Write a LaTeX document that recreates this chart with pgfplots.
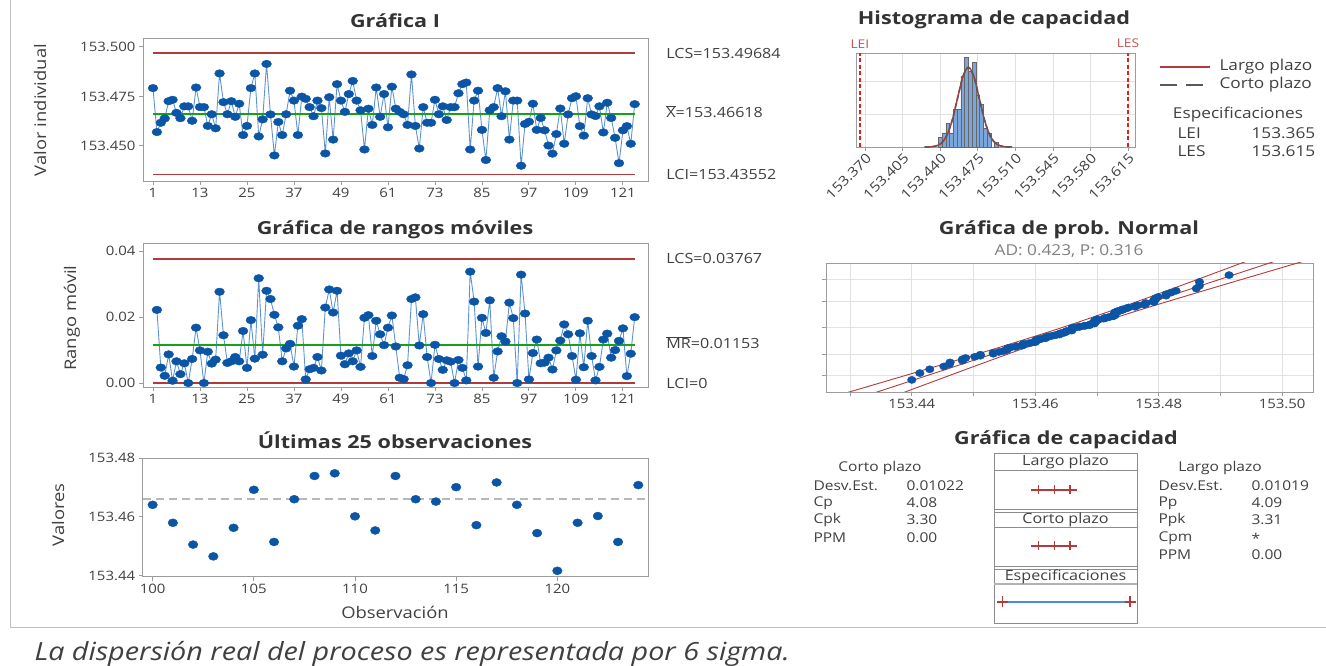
\documentclass[border=0pt]{standalone}
\usepackage{pgfplots}
\pgfplotsset{compat=1.18}
\usepackage{pgfplotstable}
\usepackage{fontspec}
\setmainfont[FakeStretch=1.15]{Open Sans}
\newfontfamily\ttlfont[FakeStretch=1.2]{Open Sans}
\definecolor{txt}{HTML}{404040}
\definecolor{ttlc}{HTML}{333333}
\definecolor{mkblue}{HTML}{0A55A6}
\definecolor{lnblue}{HTML}{5E93D1}
\definecolor{limred}{HTML}{B23A3A}
\definecolor{cgreen}{HTML}{19A019}
\definecolor{framec}{HTML}{9C9C9C}
\definecolor{gridc}{HTML}{E2E2E2}
\definecolor{histfill}{HTML}{7BA6DB}
\definecolor{specred}{HTML}{E0201B}
\definecolor{specblue}{HTML}{4A8FD6}

\pgfplotstableread{
i v
1 153.4792
2 153.4570
3 153.4617
4 153.4639
5 153.4726
6 153.4733
7 153.4667
8 153.4640
9 153.4700
10 153.4700
11 153.4627
12 153.4795
13 153.4696
14 153.4696
15 153.4601
16 153.4660
17 153.4589
18 153.4866
19 153.4721
20 153.4660
21 153.4726
22 153.4647
23 153.4713
24 153.4555
25 153.4601
26 153.4792
27 153.4866
28 153.4548
29 153.4634
30 153.4914
31 153.4659
32 153.4452
33 153.4621
34 153.4555
35 153.4660
36 153.4779
37 153.4729
38 153.4555
39 153.4749
40 153.4738
41 153.4696
42 153.4650
43 153.4729
44 153.4691
45 153.4462
46 153.4746
47 153.4532
48 153.4812
49 153.4729
50 153.4672
51 153.4762
52 153.4828
53 153.4729
54 153.4680
55 153.4482
56 153.4688
57 153.4606
58 153.4795
59 153.4647
60 153.4762
61 153.4594
62 153.4799
63 153.4688
64 153.4672
65 153.4660
66 153.4606
67 153.4861
68 153.4601
69 153.4487
70 153.4696
71 153.4617
72 153.4617
73 153.4733
74 153.4660
75 153.4700
76 153.4631
77 153.4696
78 153.4696
79 153.4766
80 153.4812
81 153.4820
82 153.4482
83 153.4729
84 153.4779
85 153.4581
86 153.4429
87 153.4680
88 153.4696
89 153.4792
90 153.4650
91 153.4776
92 153.4532
93 153.4729
94 153.4729
95 153.4400
96 153.4611
97 153.4622
98 153.4713
99 153.4581
100 153.4641
101 153.4579
102 153.4502
103 153.4461
104 153.4560
105 153.4689
106 153.4511
107 153.4659
108 153.4741
109 153.4751
110 153.4600
111 153.4552
112 153.4741
113 153.4659
114 153.4651
115 153.4700
116 153.4568
117 153.4718
118 153.4641
119 153.4541
120 153.4413
121 153.4579
122 153.4600
123 153.4511
124 153.4711
}\Idata

\pgfplotstableread{
i mr
2 0.0222
3 0.0047
4 0.0022
5 0.0087
6 0.0007
7 0.0066
8 0.0027
9 0.0060
10 0.0000
11 0.0073
12 0.0168
13 0.0099
14 0.0000
15 0.0095
16 0.0059
17 0.0071
18 0.0277
19 0.0145
20 0.0061
21 0.0066
22 0.0079
23 0.0066
24 0.0158
25 0.0046
26 0.0191
27 0.0074
28 0.0318
29 0.0086
30 0.0280
31 0.0255
32 0.0207
33 0.0169
34 0.0066
35 0.0105
36 0.0119
37 0.0050
38 0.0174
39 0.0194
40 0.0011
41 0.0042
42 0.0046
43 0.0079
44 0.0038
45 0.0229
46 0.0284
47 0.0214
48 0.0280
49 0.0083
50 0.0057
51 0.0090
52 0.0066
53 0.0099
54 0.0049
55 0.0198
56 0.0206
57 0.0082
58 0.0189
59 0.0148
60 0.0115
61 0.0168
62 0.0205
63 0.0111
64 0.0016
65 0.0012
66 0.0054
67 0.0255
68 0.0260
69 0.0114
70 0.0209
71 0.0079
72 0.0000
73 0.0116
74 0.0073
75 0.0040
76 0.0069
77 0.0065
78 0.0000
79 0.0070
80 0.0046
81 0.0008
82 0.0338
83 0.0247
84 0.0050
85 0.0198
86 0.0152
87 0.0251
88 0.0016
89 0.0096
90 0.0142
91 0.0126
92 0.0244
93 0.0197
94 0.0000
95 0.0329
96 0.0211
97 0.0011
98 0.0091
99 0.0132
100 0.0060
101 0.0062
102 0.0077
103 0.0041
104 0.0099
105 0.0129
106 0.0178
107 0.0148
108 0.0082
109 0.0010
110 0.0151
111 0.0048
112 0.0189
113 0.0082
114 0.0008
115 0.0049
116 0.0132
117 0.0150
118 0.0077
119 0.0100
120 0.0128
121 0.0166
122 0.0021
123 0.0089
124 0.0200
}\MRdata

\pgfplotstableread{
i v
100 153.4641
101 153.4580
102 153.4506
103 153.4466
104 153.4563
105 153.4692
106 153.4515
107 153.4660
108 153.4739
109 153.4748
110 153.4602
111 153.4554
112 153.4739
113 153.4660
114 153.4652
115 153.4701
116 153.4572
117 153.4717
118 153.4641
119 153.4545
120 153.4417
121 153.4580
122 153.4603
123 153.4515
124 153.4708
}\Ldata

\pgfplotstableread{
v z
153.4400 -2.535
153.4413 -2.206
153.4429 -2.020
153.4452 -1.884
153.4461 -1.777
153.4462 -1.687
153.4482 -1.608
153.4482 -1.539
153.4487 -1.476
153.4502 -1.419
153.4511 -1.366
153.4511 -1.316
153.4532 -1.270
153.4532 -1.226
153.4541 -1.184
153.4548 -1.145
153.4552 -1.107
153.4555 -1.070
153.4555 -1.035
153.4555 -1.001
153.4560 -0.968
153.4568 -0.937
153.4570 -0.906
153.4579 -0.876
153.4579 -0.847
153.4581 -0.818
153.4581 -0.790
153.4589 -0.763
153.4594 -0.736
153.4600 -0.710
153.4600 -0.685
153.4601 -0.659
153.4601 -0.635
153.4601 -0.610
153.4606 -0.586
153.4606 -0.562
153.4611 -0.539
153.4617 -0.516
153.4617 -0.493
153.4617 -0.470
153.4621 -0.448
153.4622 -0.426
153.4627 -0.404
153.4631 -0.382
153.4634 -0.360
153.4639 -0.339
153.4640 -0.318
153.4641 -0.297
153.4641 -0.276
153.4647 -0.255
153.4647 -0.234
153.4650 -0.213
153.4650 -0.193
153.4651 -0.172
153.4659 -0.152
153.4659 -0.131
153.4659 -0.111
153.4660 -0.091
153.4660 -0.071
153.4660 -0.050
153.4660 -0.030
153.4660 -0.010
153.4667 0.010
153.4672 0.030
153.4672 0.050
153.4680 0.071
153.4680 0.091
153.4688 0.111
153.4688 0.131
153.4689 0.152
153.4691 0.172
153.4696 0.193
153.4696 0.213
153.4696 0.234
153.4696 0.255
153.4696 0.276
153.4696 0.297
153.4696 0.318
153.4700 0.339
153.4700 0.360
153.4700 0.382
153.4700 0.404
153.4711 0.426
153.4713 0.448
153.4713 0.470
153.4718 0.493
153.4721 0.516
153.4726 0.539
153.4726 0.562
153.4729 0.586
153.4729 0.610
153.4729 0.635
153.4729 0.659
153.4729 0.685
153.4729 0.710
153.4729 0.736
153.4733 0.763
153.4733 0.790
153.4738 0.818
153.4741 0.847
153.4741 0.876
153.4746 0.906
153.4749 0.937
153.4751 0.968
153.4762 1.001
153.4762 1.035
153.4766 1.070
153.4776 1.107
153.4779 1.145
153.4779 1.184
153.4792 1.226
153.4792 1.270
153.4792 1.316
153.4795 1.366
153.4795 1.419
153.4799 1.476
153.4812 1.539
153.4812 1.608
153.4820 1.687
153.4828 1.777
153.4861 1.884
153.4866 2.020
153.4866 2.206
153.4914 2.535
}\Ndata

\pgfplotsset{
  mini/.style={
    scale only axis, anchor=south west,
    axis line style={framec, line width=0.9pt},
    tick style={framec, line width=0.9pt}, tick align=outside, tick pos=left,
    major tick length=4pt,
    ticklabel style={font=\fontsize{13}{13}\selectfont, text=txt},
    /pgf/number format/assume math mode=true,
    /pgf/number format/1000 sep={},
    scaled ticks=false,
    clip=false,
  },
}
\tikzset{
  ttl/.style={font=\ttlfont\fontsize{18}{20}\selectfont\bfseries, text=ttlc},
  lbl/.style={font=\fontsize{14}{16}\selectfont, text=txt},
  tbl/.style={font=\fontsize{13.5}{15}\selectfont, text=txt},
  leg/.style={font=\fontsize{15}{17}\selectfont, text=txt},
  axl/.style={font=\fontsize{16}{18}\selectfont, text=txt},
}

\begin{document}
\begin{tikzpicture}[x=1pt,y=1pt]
\path[use as bounding box] (0,0) rectangle (1326,666);
\draw[black!25, line width=0.8pt] (10,666) -- (10,39) -- (1326,39);

% ---------------- I chart
\begin{axis}[mini, at={(143pt,485pt)}, width=505pt, height=143pt,
  xmin=-1.55, xmax=127.4, ymin=153.4323, ymax=153.5045,
  xtick={1,13,25,37,49,61,73,85,97,109,121},
  ytick={153.45,153.475,153.5},
  yticklabel style={/pgf/number format/fixed, /pgf/number format/fixed zerofill, /pgf/number format/precision=3},
  ]
\addplot[lnblue, line width=0.9pt, no marks] table[x=i,y=v]{\Idata};
% control limits 153.49684 / 153.46618 / 153.43552 placed relative to ymin=153.4323, ymax=153.5045
\draw[limred, line width=1.4pt] (rel axis cs:0.019775,0.89391) -- (rel axis cs:0.973633,0.89391);
\draw[limred, line width=1.4pt] (rel axis cs:0.019775,0.04460) -- (rel axis cs:0.973633,0.04460);
\draw[cgreen, line width=1.6pt] (rel axis cs:0.019775,0.46925) -- (rel axis cs:0.973633,0.46925);
\addplot[only marks, mark=*, mark size=3.8pt,
  mark options={draw=mkblue, fill=mkblue, xscale=1.3}] table[x=i,y=v]{\Idata};
\node[lbl, anchor=west] at (rel axis cs:1.0295,0.89391) {LCS=153.49684};
\node[lbl, anchor=west] at (rel axis cs:1.0295,0.485) {$\overline{\hbox{X}}$=153.46618};
\node[lbl, anchor=west] at (rel axis cs:1.0295,0.04460) {LCI=153.43552};
\end{axis}

% ---------------- MR chart
\begin{axis}[mini, at={(143pt,279pt)}, width=505pt, height=144pt,
  xmin=-1.55, xmax=127.4, ymin=-0.0012, ymax=0.0425,
  xtick={1,13,25,37,49,61,73,85,97,109,121},
  ytick={0,0.02,0.04},
  yticklabel style={/pgf/number format/fixed, /pgf/number format/fixed zerofill, /pgf/number format/precision=2},
  ]
\addplot[lnblue, line width=0.9pt, no marks] table[x=i,y=mr]{\MRdata};
\draw[limred, line width=1.4pt] (axis cs:1,0.03767) -- (axis cs:124,0.03767);
\draw[limred, line width=1.4pt] (axis cs:1,0) -- (axis cs:124,0);
\draw[cgreen, line width=1.4pt] (axis cs:1,0.01153) -- (axis cs:124,0.01153);
\addplot[only marks, mark=*, mark size=3.8pt,
  mark options={draw=mkblue, fill=mkblue, xscale=1.3}] table[x=i,y=mr]{\MRdata};
\node[lbl, anchor=west] at (axis cs:131.2,0.03767) {LCS=0.03767};
\node[lbl, anchor=west] at (axis cs:131.2,0.0122) {$\overline{\hbox{MR}}$=0.01153};
\node[lbl, anchor=west] at (axis cs:131.2,0) {LCI=0};
\end{axis}

% ---------------- Last 25
\begin{axis}[mini, at={(142.7pt,89.3pt)}, width=505.3pt, height=118.7pt,
  xmin=99.51, xmax=124.48, ymin=153.4397, ymax=153.48,
  xtick={100,105,110,115,120},
  ytick={153.44,153.46,153.48},
  yticklabel style={/pgf/number format/fixed, /pgf/number format/fixed zerofill, /pgf/number format/precision=2},
  ]
\draw[black!28, line width=1.5pt, dash pattern=on 8pt off 5pt] (rel axis cs:0,0.65459) -- (rel axis cs:1,0.65459);
\addplot[only marks, mark=*, mark size=4pt,
  mark options={draw=mkblue, fill=mkblue, xscale=1.2}] table[x=i,y=v]{\Ldata};
\end{axis}

% ---------------- Histogram
\begin{axis}[mini, at={(856pt,519pt)}, width=279pt, height=94pt,
  xmin=153.3614, xmax=153.6215, ymin=0, ymax=20,
  xtick={153.370,153.405,153.440,153.475,153.510,153.545,153.580,153.615},
  xticklabels={153.370,153.405,153.440,153.475,153.510,153.545,153.580,153.615},
  xticklabel style={rotate=45, anchor=north east, inner sep=1pt, font=\fontsize{13.5}{13.5}\selectfont},
  ytick={7,14}, yticklabels={}, ytick style={draw=none},
  grid=major, grid style={gridc, line width=0.9pt},
  ]
\addplot[ybar interval, fill=histfill, draw=black!60, line width=0.6pt] coordinates {
(153.43825,2) (153.44175,3) (153.44525,5) (153.44875,3) (153.45225,8) (153.45575,8)
(153.45925,15) (153.46275,19) (153.46625,16) (153.46975,18) (153.47325,11) (153.47675,9)
(153.48025,4) (153.48375,3) (153.48725,0) (153.49075,1) (153.49425,0)};
\addplot[limred, line width=1.5pt, smooth] coordinates {
(153.42542,0.006) (153.43052,0.037) (153.43561,0.189) (153.44071,0.746) (153.44580,2.299)
(153.45090,5.516) (153.45599,10.305) (153.46109,14.994) (153.46618,16.99) (153.47127,14.994)
(153.47637,10.305) (153.48146,5.516) (153.48656,2.299) (153.49165,0.746) (153.49675,0.189)
(153.50184,0.037) (153.50694,0.006)};
\addplot[black!65, line width=1.5pt, dash pattern=on 5pt off 3pt, smooth] coordinates {
(153.42530,0.006) (153.43041,0.038) (153.43552,0.191) (153.44063,0.748) (153.44574,2.292)
(153.45085,5.500) (153.45596,10.275) (153.46107,14.950) (153.46618,16.94) (153.47129,14.950)
(153.47640,10.275) (153.48151,5.500) (153.48662,2.292) (153.49173,0.748) (153.49684,0.191)
(153.50195,0.038) (153.50706,0.006)};
\draw[specred, line width=1.3pt, dash pattern=on 4pt off 2.5pt] (axis cs:153.365,0) -- (axis cs:153.365,20);
\draw[specred, line width=1.3pt, dash pattern=on 4pt off 2.5pt] (axis cs:153.615,0) -- (axis cs:153.615,20);
\node[font=\fontsize{12}{12}\selectfont, text=limred!85, anchor=south] at (axis cs:153.365,20.3) {LEI};
\node[font=\fontsize{12}{12}\selectfont, text=limred!85, anchor=south] at (axis cs:153.615,20.3) {LES};
\end{axis}

% ---------------- Normal probability
\begin{axis}[mini, clip=true, at={(826pt,274pt)}, width=487pt, height=129pt,
  xmin=153.4261, xmax=153.505, ymin=-3.12, ymax=3.12,
  xtick={153.43,153.44,153.45,153.46,153.47,153.48,153.49,153.50},
  xticklabels={,153.44,,153.46,,153.48,,153.50},
  ytick={-2.326,-1.2816,0,1.2816,2.326}, yticklabels={},
  grid=major, grid style={gridc, line width=0.9pt},
  ]
\addplot[limred, line width=0.9pt, smooth] coordinates {
(153.42895,-3.2) (153.44259,-2) (153.45375,-1) (153.46438,0) (153.47413,1) (153.48335,2) (153.49417,3.2)};
\addplot[limred, line width=0.9pt] coordinates {(153.43357,-3.2) (153.49879,3.2)};
\addplot[limred, line width=0.9pt, smooth] coordinates {
(153.43819,-3.2) (153.44901,-2) (153.45823,-1) (153.46798,0) (153.47861,1) (153.48977,2) (153.50341,3.2)};
\addplot[only marks, mark=*, mark size=3.6pt,
  mark options={draw=mkblue, fill=mkblue, xscale=1.2}] table[x=v,y=z]{\Ndata};
\end{axis}

% ---------------- Capability plot
\begin{axis}[scale only axis, anchor=south west, hide axis, clip=false,
  at={(994pt,43pt)}, width=143pt, height=170pt,
  xmin=153.3479, xmax=153.6287, ymin=0, ymax=170]
\draw[black!45, line width=0.9pt] (axis cs:153.3479,0) rectangle (axis cs:153.6287,170);
\draw[black!45, line width=0.9pt] (axis cs:153.3479,153) -- (axis cs:153.6287,153);
\draw[black!45, line width=0.9pt] (axis cs:153.3479,114) -- (axis cs:153.6287,114);
\draw[black!45, line width=0.9pt] (axis cs:153.3479,111) -- (axis cs:153.6287,111);
\draw[black!45, line width=0.9pt] (axis cs:153.3479,96) -- (axis cs:153.6287,96);
\draw[black!45, line width=0.9pt] (axis cs:153.3479,57) -- (axis cs:153.6287,57);
\draw[black!45, line width=0.9pt] (axis cs:153.3479,54) -- (axis cs:153.6287,54);
\draw[black!30, line width=2.2pt] (axis cs:153.3479,39) -- (axis cs:153.6287,39);
\node[tbl, font=\fontsize{14}{15}\selectfont] at (axis cs:153.4883,161) {Largo plazo};
\node[tbl, font=\fontsize{14}{15}\selectfont] at (axis cs:153.4883,103) {Corto plazo};
\node[tbl, font=\fontsize{14}{15}\selectfont] at (axis cs:153.4883,46) {Especificaciones};
\addplot[limred, line width=1.4pt] coordinates {(153.4212,133) (153.5112,133)};
\addplot[limred, line width=1.4pt, only marks, mark=|, mark size=4.5pt] coordinates {(153.43561,133) (153.46618,133) (153.49675,133)};
\addplot[limred, line width=1.4pt] coordinates {(153.4212,77) (153.5112,77)};
\addplot[limred, line width=1.4pt, only marks, mark=|, mark size=4.5pt] coordinates {(153.43552,77) (153.46618,77) (153.49684,77)};
\addplot[specblue, line width=1.4pt] coordinates {(153.365,21) (153.615,21)};
\addplot[limred, line width=1.4pt, only marks, mark=+, mark size=5.5pt] coordinates {(153.365,21) (153.615,21)};
\end{axis}

% ---------------- titles & labels
\node[ttl] at (395,645) {Gráfica I};
\node[ttl] at (395,436) {Gráfica de rangos móviles};
\node[ttl] at (395,226) {Últimas 25 observaciones};
\node[ttl] at (994,646) {Histograma de capacidad};
\node[ttl] at (1069,436) {Gráfica de prob. Normal};
\node[leg, text=black!50] at (1069,415) {AD: 0.423, P: 0.316};
\node[ttl] at (1066,226) {Gráfica de capacidad};

\node[axl, rotate=90] at (40,556) {Valor individual};
\node[axl, rotate=90] at (72,348) {Rango móvil};
\node[axl, rotate=90] at (58,151) {Valores};
\node[axl] at (395,54) {Observación};

% legend of histogram
\draw[limred, line width=1.6pt] (1160,599) -- (1210,599);
\node[leg, anchor=west] at (1216,599) {Largo plazo};
\draw[black!65, line width=1.6pt, dash pattern=on 17pt off 9pt] (1160,581) -- (1210,581);
\node[leg, anchor=west] at (1216,581) {Corto plazo};
\node[leg] at (1238,551) {Especificaciones};
\node[leg, anchor=west] at (1174,533) {LEI};
\node[leg, anchor=west] at (1248,533) {153.365};
\node[leg, anchor=west] at (1174,515) {LES};
\node[leg, anchor=west] at (1248,515) {153.615};

% tables
\node[tbl] at (880,198) {Corto plazo};
\node[tbl, anchor=west] at (810,180) {Desv.Est.};
\node[tbl, anchor=west] at (903,180) {0.01022};
\node[tbl, anchor=west] at (810,163) {Cp};
\node[tbl, anchor=west] at (903,163) {4.08};
\node[tbl, anchor=west] at (810,146) {Cpk};
\node[tbl, anchor=west] at (903,146) {3.30};
\node[tbl, anchor=west] at (810,128) {PPM};
\node[tbl, anchor=west] at (903,128) {0.00};

\node[tbl] at (1220,198) {Largo plazo};
\node[tbl, anchor=west] at (1155,180) {Desv.Est.};
\node[tbl, anchor=west] at (1248,180) {0.01019};
\node[tbl, anchor=west] at (1155,163) {Pp};
\node[tbl, anchor=west] at (1248,163) {4.09};
\node[tbl, anchor=west] at (1155,146) {Ppk};
\node[tbl, anchor=west] at (1248,146) {3.31};
\node[tbl, anchor=west] at (1155,128) {Cpm};
\node[tbl, anchor=west] at (1248,128) {*};
\node[tbl, anchor=west] at (1155,111) {PPM};
\node[tbl, anchor=west] at (1248,111) {0.00};

\node[anchor=base west, font=\fontsize{25}{27}\selectfont\itshape, text=txt] at (31,5) {La dispersión real del proceso es representada por 6 sigma.};
\end{tikzpicture}
\end{document}
